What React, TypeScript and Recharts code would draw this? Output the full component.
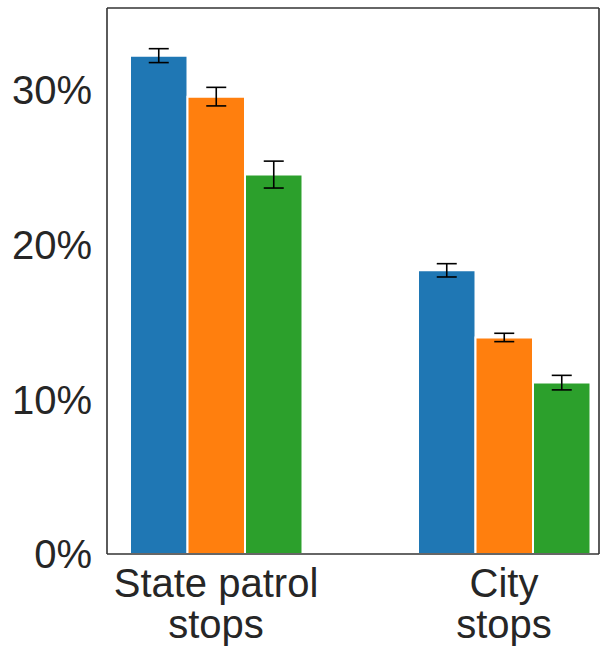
import React from 'react';
import { BarChart, Bar, XAxis, YAxis, ErrorBar } from 'recharts';

const categories = ['State patrol\nstops', 'City\nstops'];
const blueValues = [32.22, 18.34];
const orangeValues = [29.57, 14.0];
const greenValues = [24.53, 11.08];
const blueErrors = [0.45, 0.43];
const orangeErrors = [0.6, 0.27];
const greenErrors = [0.87, 0.47];
const yTicks = [0, 10, 20, 30];

const data = categories.map((name, i) => ({
  name,
  blue: blueValues[i],
  orange: orangeValues[i],
  green: greenValues[i],
  blueErr: blueErrors[i],
  orangeErr: orangeErrors[i],
  greenErr: greenErrors[i],
}));

const FONT = '"Liberation Sans", Arial, Helvetica, sans-serif';
const TEXT = '#262626';
const SPINE = '#333333';

function CategoryTick(props: any) {
  const { x, y, payload } = props;
  const lines = String(payload.value).split('\n');
  return (
    <text x={x} y={y} textAnchor="middle" fill={TEXT} fontSize={40} fontFamily={FONT}>
      {lines.map((l, i) => (
        <tspan key={i} x={x} y={y + 43 + i * 41}>
          {l}
        </tspan>
      ))}
    </text>
  );
}

export default function App() {
  return (
    <div style={{ position: 'absolute', left: 0, top: 0, width: 600, height: 646, background: '#fff' }}>
      <BarChart
        width={600}
        height={646}
        data={data}
        margin={{ top: 7, right: 0, bottom: 2, left: 7 }}
        barGap={0}
        barSize={57.5}
      >
        <XAxis
          dataKey="name"
          height={90}
          padding={{ left: -35, right: -49 }}
          axisLine={{ stroke: SPINE, strokeWidth: 1.6 }}
          tickLine={false}
          tickSize={0}
          tickMargin={0}
          tick={<CategoryTick />}
          interval={0}
        />
        <XAxis
          xAxisId="top"
          orientation="top"
          height={1}
          tick={false}
          tickLine={false}
          axisLine={{ stroke: SPINE, strokeWidth: 1.6 }}
        />
        <YAxis
          domain={[0, 35.3]}
          ticks={yTicks}
          width={100}
          axisLine={{ stroke: SPINE, strokeWidth: 1.6 }}
          tickLine={false}
          tickSize={0}
          tickMargin={15}
          tickFormatter={(v: number) => `${v}%`}
          tick={{ fill: TEXT, fontSize: 40, fontFamily: FONT }}
        />
        <YAxis
          yAxisId="right"
          orientation="right"
          width={1}
          tick={false}
          tickLine={false}
          axisLine={{ stroke: SPINE, strokeWidth: 1.6 }}
        />
        <Bar dataKey="blue" fill="#1f77b4" stroke="#ffffff" strokeWidth={2} isAnimationActive={false}>
          <ErrorBar dataKey="blueErr" width={10} stroke="#000" strokeWidth={1.6} />
        </Bar>
        <Bar dataKey="orange" fill="#ff7f0e" stroke="#ffffff" strokeWidth={2} isAnimationActive={false}>
          <ErrorBar dataKey="orangeErr" width={10} stroke="#000" strokeWidth={1.6} />
        </Bar>
        <Bar dataKey="green" fill="#2ca02c" stroke="#ffffff" strokeWidth={2} isAnimationActive={false}>
          <ErrorBar dataKey="greenErr" width={10} stroke="#000" strokeWidth={1.6} />
        </Bar>
      </BarChart>
    </div>
  );
}
